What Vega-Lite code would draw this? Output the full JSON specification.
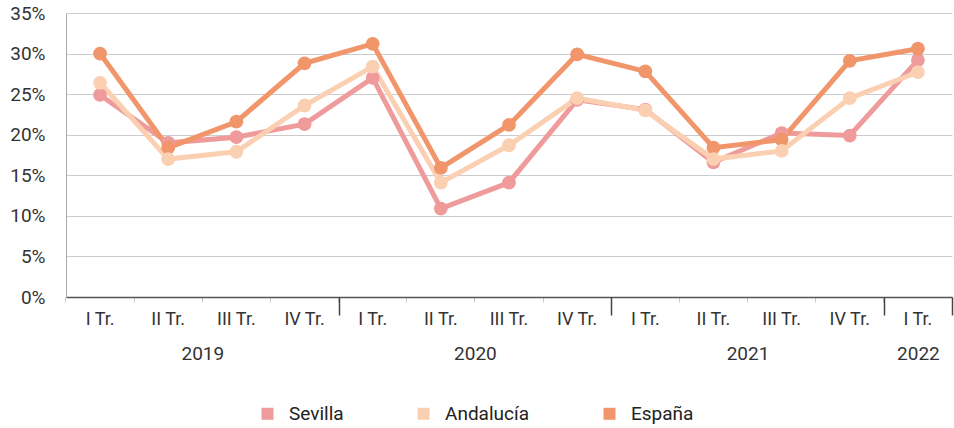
{
  "$schema": "https://vega.github.io/schema/vega-lite/v6.json",
  "width": 886,
  "height": 284,
  "autosize": {"type": "none"},
  "padding": {"left": 66, "top": 13, "right": 2, "bottom": 131},
  "config": {
    "font": "Roboto",
    "view": {"stroke": null},
    "axis": {"labelFont": "Roboto", "labelColor": "#333333", "titleFont": "Roboto"},
    "legend": {"labelFont": "Roboto"}
  },
  "datasets": {
    "series": [
      {"periodo": "2019-I", "serie": "Sevilla", "valor": 0.249},
      {"periodo": "2019-II", "serie": "Sevilla", "valor": 0.190},
      {"periodo": "2019-III", "serie": "Sevilla", "valor": 0.197},
      {"periodo": "2019-IV", "serie": "Sevilla", "valor": 0.213},
      {"periodo": "2020-I", "serie": "Sevilla", "valor": 0.270},
      {"periodo": "2020-II", "serie": "Sevilla", "valor": 0.109},
      {"periodo": "2020-III", "serie": "Sevilla", "valor": 0.141},
      {"periodo": "2020-IV", "serie": "Sevilla", "valor": 0.243},
      {"periodo": "2021-I", "serie": "Sevilla", "valor": 0.231},
      {"periodo": "2021-II", "serie": "Sevilla", "valor": 0.166},
      {"periodo": "2021-III", "serie": "Sevilla", "valor": 0.202},
      {"periodo": "2021-IV", "serie": "Sevilla", "valor": 0.199},
      {"periodo": "2022-I", "serie": "Sevilla", "valor": 0.292},
      {"periodo": "2019-I", "serie": "Andalucía", "valor": 0.264},
      {"periodo": "2019-II", "serie": "Andalucía", "valor": 0.170},
      {"periodo": "2019-III", "serie": "Andalucía", "valor": 0.179},
      {"periodo": "2019-IV", "serie": "Andalucía", "valor": 0.236},
      {"periodo": "2020-I", "serie": "Andalucía", "valor": 0.284},
      {"periodo": "2020-II", "serie": "Andalucía", "valor": 0.141},
      {"periodo": "2020-III", "serie": "Andalucía", "valor": 0.187},
      {"periodo": "2020-IV", "serie": "Andalucía", "valor": 0.245},
      {"periodo": "2021-I", "serie": "Andalucía", "valor": 0.230},
      {"periodo": "2021-II", "serie": "Andalucía", "valor": 0.170},
      {"periodo": "2021-III", "serie": "Andalucía", "valor": 0.180},
      {"periodo": "2021-IV", "serie": "Andalucía", "valor": 0.245},
      {"periodo": "2022-I", "serie": "Andalucía", "valor": 0.277},
      {"periodo": "2019-I", "serie": "España", "valor": 0.300},
      {"periodo": "2019-II", "serie": "España", "valor": 0.184},
      {"periodo": "2019-III", "serie": "España", "valor": 0.216},
      {"periodo": "2019-IV", "serie": "España", "valor": 0.288},
      {"periodo": "2020-I", "serie": "España", "valor": 0.312},
      {"periodo": "2020-II", "serie": "España", "valor": 0.159},
      {"periodo": "2020-III", "serie": "España", "valor": 0.212},
      {"periodo": "2020-IV", "serie": "España", "valor": 0.299},
      {"periodo": "2021-I", "serie": "España", "valor": 0.278},
      {"periodo": "2021-II", "serie": "España", "valor": 0.184},
      {"periodo": "2021-III", "serie": "España", "valor": 0.194},
      {"periodo": "2021-IV", "serie": "España", "valor": 0.291},
      {"periodo": "2022-I", "serie": "España", "valor": 0.306}
    ],
    "years": [
      {"anio": "2019", "pos": 2},
      {"anio": "2020", "pos": 6},
      {"anio": "2021", "pos": 10},
      {"anio": "2022", "pos": 12.5}
    ]
  },
  "layer": [
    {
      "data": {"name": "series"},
      "mark": {"type": "line", "strokeWidth": 5, "point": {"size": 190, "filled": true, "opacity": 1}},
      "encoding": {
        "x": {
          "field": "periodo",
          "type": "ordinal",
          "sort": null,
          "scale": {"type": "band", "paddingInner": 0, "paddingOuter": 0},
          "axis": {
            "title": null,
            "labelAngle": 0,
            "bandPosition": 0,
            "labelExpr": "split(datum.value, '-')[1] + ' Tr.'",
            "labelFontSize": 18,
            "labelPadding": 8,
            "tickSize": 5,
            "tickColor": "#cccccc",
            "tickWidth": 1,
            "domainColor": "#555555",
            "domainWidth": 1.5,
            "grid": false
          }
        },
        "y": {
          "field": "valor",
          "type": "quantitative",
          "scale": {"domain": [0, 0.35], "nice": false},
          "axis": {
            "title": null,
            "format": ".0%",
            "values": [0, 0.05, 0.1, 0.15, 0.2, 0.25, 0.3, 0.35],
            "ticks": false,
            "labelPadding": 21,
            "labelFontSize": 19,
            "domainColor": "#aaaaaa",
            "domainWidth": 1,
            "gridColor": "#cccccc",
            "gridWidth": 1
          }
        },
        "color": {
          "field": "serie",
          "type": "nominal",
          "sort": ["Sevilla", "Andalucía", "España"],
          "scale": {"domain": ["Sevilla", "Andalucía", "España"], "range": ["#ef9b9b", "#fbd0b2", "#f1956a"]},
          "legend": {
            "title": null,
            "orient": "none",
            "legendX": 192,
            "legendY": 391,
            "direction": "horizontal",
            "symbolType": "square",
            "symbolSize": 144,
            "symbolStrokeWidth": 0,
            "symbolOpacity": 1,
            "labelFontSize": 19,
            "labelColor": "#222222",
            "labelOffset": 12,
            "columnPadding": 70,
            "padding": 0
          }
        },
        "order": {"field": "serie", "sort": "descending"}
      }
    },
    {
      "data": {"name": "years"},
      "mark": {"type": "rule", "opacity": 0},
      "encoding": {
        "x": {
          "field": "pos",
          "type": "quantitative",
          "scale": {"domain": [0, 13], "nice": false, "zero": false},
          "axis": {
            "orient": "bottom",
            "title": null,
            "domain": false,
            "grid": false,
            "values": [2, 4, 6, 8, 10, 12, 12.5, 13],
            "labelExpr": "datum.value == 2 ? '2019' : datum.value == 6 ? '2020' : datum.value == 10 ? '2021' : datum.value == 12.5 ? '2022' : ''",
            "labelFontSize": 19,
            "labelPadding": 29,
            "labelColor": "#333333",
            "tickSize": 18,
            "tickWidth": 1.5,
            "tickColor": "#444444",
            "tickOpacity": {"condition": {"test": "datum.value == 4 || datum.value == 8 || datum.value == 12 || datum.value == 13", "value": 1}, "value": 0},
            "labelFlush": false
          }
        }
      }
    }
  ],
  "resolve": {"scale": {"x": "independent"}, "axis": {"x": "independent"}}
}
